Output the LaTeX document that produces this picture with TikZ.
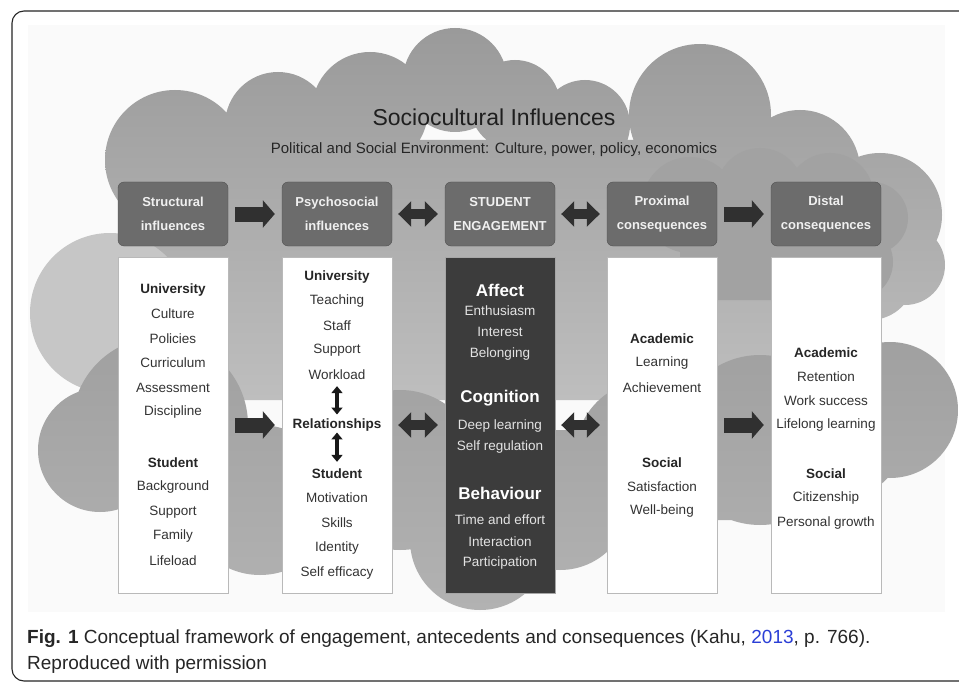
\documentclass[tikz,border=0pt]{standalone}
\usepackage{fontspec}
\setmainfont{Liberation Sans}
\usetikzlibrary{arrows.meta,positioning}
\definecolor{hdrgray}{HTML}{6C6C6C}
\definecolor{hdrline}{HTML}{505050}
\definecolor{hdrtext}{HTML}{F0F0F0}
\definecolor{engdark}{HTML}{3C3C3C}
\definecolor{arrowdark}{HTML}{303030}
\definecolor{cloudtop}{HTML}{9A9A9A}
\definecolor{cloudbot}{HTML}{BEBEBE}
\definecolor{cloudlow}{HTML}{A0A0A0}
\definecolor{cloudlowb}{HTML}{B2B2B2}
\definecolor{cloudlight}{HTML}{C6C6C6}
\definecolor{cloudmid}{HTML}{A2A2A2}
\definecolor{linkblue}{HTML}{2B3FD6}
\tikzset{
  hdrbox/.style={draw=hdrline, fill=hdrgray, rounded corners=6pt, minimum width=110pt, minimum height=64pt, align=center, text=hdrtext, font=\bfseries\fontsize{13}{24}\selectfont, inner sep=0pt},
  colbox/.style={draw=gray!55, fill=white, minimum width=110pt, minimum height=336pt, inner sep=0pt},
  engbox/.style={colbox, fill=engdark, draw=gray!70},
  colhd/.style={inner sep=1pt, text=black!85, font=\bfseries\fontsize{13.5}{16}\selectfont},
  colit/.style={inner sep=1pt, text=black!80, font=\fontsize{13.5}{16}\selectfont},
  enghd/.style={inner sep=1pt, text=white, font=\bfseries\fontsize{17}{20}\selectfont},
  engit/.style={inner sep=1pt, text=gray!22, font=\fontsize{13.5}{16}\selectfont},
  fatarrow/.style={line width=15pt, draw=arrowdark, -{Triangle[length=12pt,width=27pt]}, shorten <=7pt, shorten >=7pt},
  duoarrow/.style={line width=10pt, draw=arrowdark, {Triangle[length=13pt,width=25pt]}-{Triangle[length=13pt,width=25pt]}, shorten <=6pt, shorten >=7pt},
  thinduo/.style={line width=4.5pt, draw=black!90, {Triangle[length=7pt,width=11pt]}-{Triangle[length=7pt,width=11pt]}},
}
\begin{document}
\begin{tikzpicture}[x=1pt,y=-1pt]
\useasboundingbox (0,0) rectangle (959,682);
\clip (0,0) rectangle (959,682);
\fill[white] (0,0) rectangle (959,682);
\fill[gray!4] (28,25) rectangle (945,612);
% clouds
\shade[top color=cloudtop, bottom color=cloudbot]
  (175,160) circle (70pt) (278,125) circle (53pt) (370,110) circle (58pt)
  (455,80) circle (52pt) (515,105) circle (45pt) (585,125) circle (45pt)
  (700,115) circle (71pt) (800,170) circle (60pt) (880,215) circle (62pt)
  (905,265) circle (40pt) (870,275) circle (45pt)
  (120,140) rectangle (840,400);
\fill[cloudlight] (110,313) circle (80pt);
\fill[cloudmid] (690,205) circle (48pt) (760,192) circle (44pt) (830,197) circle (44pt)
  (872,218) circle (36pt) (855,262) circle (38pt) (680,205) rectangle (850,300);
\shade[top color=cloudlow, bottom color=cloudlowb]
  (160,425) circle (88pt) (100,450) circle (62pt) (260,500) circle (75pt)
  (400,470) circle (80pt) (480,540) circle (70pt) (560,500) circle (70pt)
  (650,455) circle (75pt) (760,440) circle (85pt) (890,410) circle (68pt)
  (850,445) circle (50pt) (150,430) rectangle (850,520);
% frame
\draw[black!85, line width=1.1pt, rounded corners=12pt] (12,11) rectangle (990,681);
% titles
\node[text=black!88, font=\fontsize{23}{26}\selectfont] (title) at (494,117) {Sociocultural Influences};
\node[text=black!85, font=\fontsize{15}{18}\selectfont] (subtitle) at (494,150) {Political and Social Environment: Culture, power, policy, economics};
% header row
\node[hdrbox] (hstruct) at (173,214) {Structural\\influences};
\node[hdrbox] (hpsych) at (337,214) {Psychosocial\\influences};
\node[hdrbox] (heng) at (500,214) {STUDENT\\ENGAGEMENT};
\node[hdrbox] (hprox) at (662,214) {Proximal\\consequences};
\node[hdrbox] (hdist) at (826,214) {Distal\\consequences};
% columns
\node[colbox] (cstruct) at (173,425) {};
\node[colbox] (cpsych) at (337,425) {};
\node[engbox] (ceng) at (500,425) {};
\node[colbox] (cprox) at (662,425) {};
\node[colbox] (cdist) at (826,425) {};
\foreach \yy/\txt/\sty [count=\i] in {290/University/colhd, 314/Culture/colit, 339/Policies/colit, 363/Curriculum/colit, 388/Assessment/colit, 412/Discipline/colit, 463/Student/colhd, 487/Background/colit, 512/Support/colit, 536/Family/colit, 561/Lifeload/colit}
  \node[\sty] (st\i) at (173,\yy) {\txt};
\foreach \yy/\txt/\sty [count=\i] in {277/University/colhd, 301/Teaching/colit, 326/Staff/colit, 350/Support/colit, 375/Workload/colit, 425/Relationships/colhd, 474/Student/colhd, 498/Motivation/colit, 523/Skills/colit, 548/Identity/colit, 573/Self efficacy/colit}
  \node[\sty] (ps\i) at (337,\yy) {\txt};
\foreach \yy/\txt/\sty [count=\i] in {290/Affect/enghd, 311/Enthusiasm/engit, 332/Interest/engit, 354/Belonging/engit, 398/Cognition/enghd, 426/Deep learning/engit, 447/Self regulation/engit, 493/Behaviour/enghd, 520/Time and effort/engit, 542/Interaction/engit, 563/Participation/engit}
  \node[\sty] (en\i) at (500,\yy) {\txt};
\foreach \yy/\txt/\sty [count=\i] in {339/Academic/colhd, 363/Learning/colit, 388/Achievement/colit, 463/Social/colhd, 487/Satisfaction/colit, 511/Well-being/colit}
  \node[\sty] (pr\i) at (662,\yy) {\txt};
\foreach \yy/\txt/\sty [count=\i] in {353/Academic/colhd, 377/Retention/colit, 401/Work success/colit, 425/Lifelong learning/colit, 474/Social/colhd, 498/Citizenship/colit, 523/Personal growth/colit}
  \node[\sty] (di\i) at (826,\yy) {\txt};
% arrows
\draw[fatarrow] (hstruct.east) -- (hpsych.west);
\draw[duoarrow] (hpsych.east) -- (heng.west);
\draw[duoarrow] (heng.east) -- (hprox.west);
\draw[fatarrow] (hprox.east) -- (hdist.west);
\draw[fatarrow] (cstruct.east) -- (cpsych.west);
\draw[duoarrow] (cpsych.east) -- (ceng.west);
\draw[duoarrow] (ceng.east) -- (cprox.west);
\draw[fatarrow] (cprox.east) -- (cdist.west);
\draw[thinduo, shorten <=5pt, shorten >=3pt] (ps5.south) -- (ps6.north);
\draw[thinduo, shorten <=0pt, shorten >=6pt] (ps6.south) -- (ps7.north);
% caption
\node[anchor=base west, inner sep=0pt, text=black!85, font=\fontsize{19}{22}\selectfont] (cap1) at (27,643) {\textbf{Fig. 1} Conceptual framework of engagement, antecedents and consequences (Kahu, \textcolor{linkblue}{2013}, p. 766).};
\node[anchor=base west, inner sep=0pt, text=black!85, font=\fontsize{19}{22}\selectfont] (cap2) at (27,669) {Reproduced with permission};
\end{tikzpicture}
\end{document}
